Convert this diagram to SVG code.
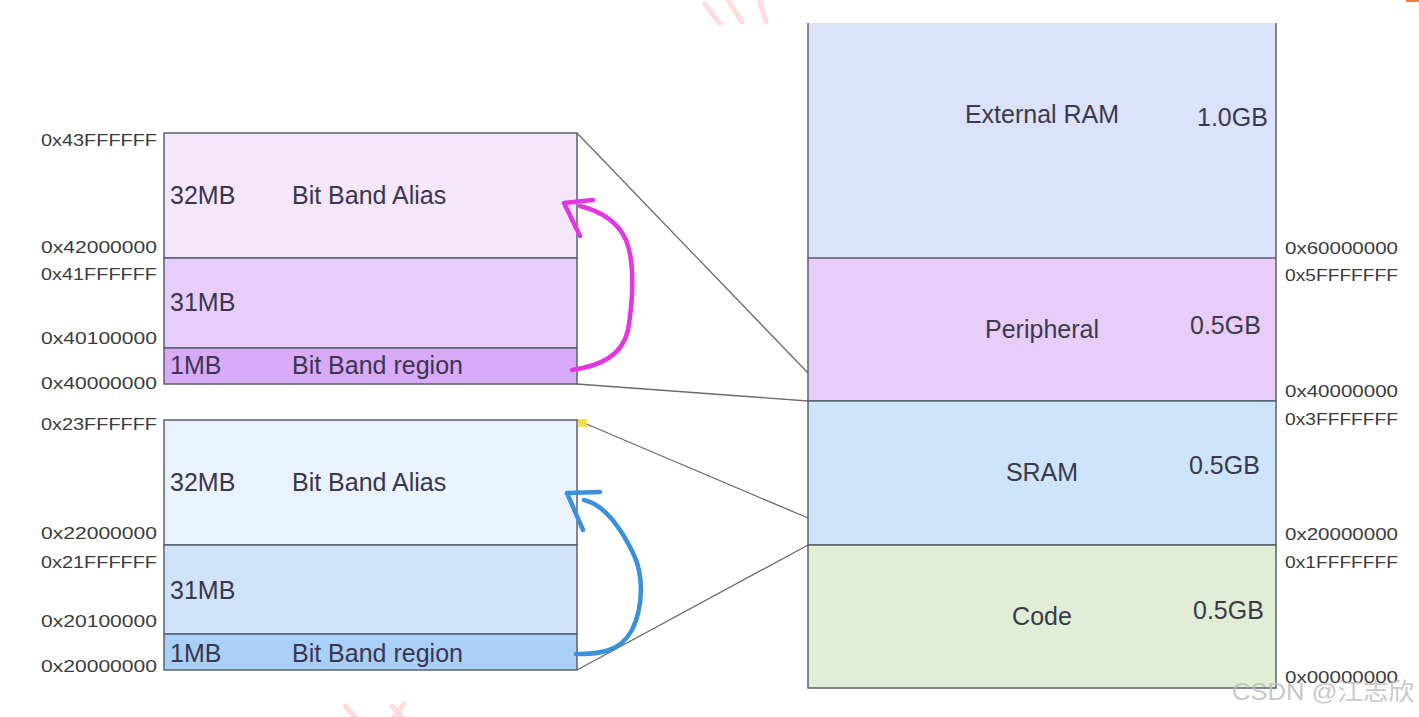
<svg xmlns="http://www.w3.org/2000/svg" width="1419" height="717" viewBox="0 0 1419 717">
<style>
.addr{font-family:"Liberation Sans",Arial,sans-serif;font-size:17px;fill:#3c3c3c}
.lbl{font-family:"Liberation Sans",Arial,sans-serif;font-size:25px;fill:#3a3550}
.big{font-family:"Liberation Sans",Arial,sans-serif;font-size:25px;fill:#3a3a4a}
.mid{text-anchor:middle}
.box{stroke:#5a6070;stroke-width:1.5}
.conn{stroke:#6a6a6a;stroke-width:1.3;fill:none}
.wm{stroke:#ff9a9a;stroke-width:5;fill:none;opacity:0.35;stroke-linecap:round}
</style>
<rect width="1419" height="717" fill="#ffffff"/>

<g id="watermark">
<path class="wm" d="M705 4 L720 24 M728 0 L742 22 M760 2 L766 22"/>
<path class="wm" d="M345 706 L355 717 M392 706 L402 717 M404 704 L394 717"/>
<rect x="1406" y="0" width="13" height="2" fill="#f08030"/>
</g>

<g id="connectors">
<line class="conn" x1="577" y1="133" x2="808" y2="373"/>
<line class="conn" x1="577" y1="384" x2="808" y2="401"/>
<line class="conn" x1="577" y1="420" x2="808" y2="518"/>
<line class="conn" x1="577" y1="670" x2="808" y2="545"/>
</g>

<g id="bitband-peripheral">
<rect class="box" x="164" y="133" width="413" height="125" fill="#f4e7fb"/>
<rect class="box" x="164" y="258" width="413" height="90" fill="#e7cefa"/>
<rect class="box" x="164" y="348" width="413" height="36" fill="#d9aaf8"/>
<text class="lbl" x="170" y="204">32MB</text>
<text class="lbl" x="292" y="204">Bit Band Alias</text>
<text class="lbl" x="170" y="311">31MB</text>
<text class="lbl" x="170" y="374">1MB</text>
<text class="lbl" x="292" y="374">Bit Band region</text>
<text class="addr" x="41" y="146" textLength="116" lengthAdjust="spacingAndGlyphs">0x43FFFFFF</text>
<text class="addr" x="41" y="253" textLength="116" lengthAdjust="spacingAndGlyphs">0x42000000</text>
<text class="addr" x="41" y="280" textLength="116" lengthAdjust="spacingAndGlyphs">0x41FFFFFF</text>
<text class="addr" x="41" y="344" textLength="116" lengthAdjust="spacingAndGlyphs">0x40100000</text>
<text class="addr" x="41" y="389" textLength="116" lengthAdjust="spacingAndGlyphs">0x40000000</text>
</g>

<g id="bitband-sram">
<rect class="box" x="164" y="420" width="413" height="125" fill="#eaf3fd"/>
<rect class="box" x="164" y="545" width="413" height="89" fill="#cfe4fb"/>
<rect class="box" x="164" y="634" width="413" height="36" fill="#a9d0f8"/>
<text class="lbl" x="170" y="491">32MB</text>
<text class="lbl" x="292" y="491">Bit Band Alias</text>
<text class="lbl" x="170" y="599">31MB</text>
<text class="lbl" x="170" y="662">1MB</text>
<text class="lbl" x="292" y="662">Bit Band region</text>
<text class="addr" x="41" y="430" textLength="116" lengthAdjust="spacingAndGlyphs">0x23FFFFFF</text>
<text class="addr" x="41" y="539" textLength="116" lengthAdjust="spacingAndGlyphs">0x22000000</text>
<text class="addr" x="41" y="568" textLength="116" lengthAdjust="spacingAndGlyphs">0x21FFFFFF</text>
<text class="addr" x="41" y="627" textLength="116" lengthAdjust="spacingAndGlyphs">0x20100000</text>
<text class="addr" x="41" y="672" textLength="116" lengthAdjust="spacingAndGlyphs">0x20000000</text>
<rect x="578" y="419" width="9" height="8" fill="#f0e040" opacity="0.9"/>
</g>

<g id="memory-map">
<rect x="808" y="23" width="468" height="235" fill="#dde2fc"/>
<rect class="box" x="808" y="258" width="468" height="143" fill="#e8cdfa"/>
<rect class="box" x="808" y="401" width="468" height="144" fill="#cde4fb"/>
<rect class="box" x="808" y="545" width="468" height="143" fill="#e2edd6"/>
<line class="box" x1="808" y1="23" x2="808" y2="258"/>
<line class="box" x1="1276" y1="23" x2="1276" y2="258"/>
<text class="big mid" x="1042" y="123">External RAM</text>
<text class="big" x="1197" y="126">1.0GB</text>
<text class="big mid" x="1042" y="338">Peripheral</text>
<text class="big" x="1190" y="334">0.5GB</text>
<text class="big mid" x="1042" y="481">SRAM</text>
<text class="big" x="1189" y="474">0.5GB</text>
<text class="big mid" x="1042" y="625">Code</text>
<text class="big" x="1193" y="619">0.5GB</text>
<text class="addr" x="1285" y="254" textLength="113" lengthAdjust="spacingAndGlyphs">0x60000000</text>
<text class="addr" x="1285" y="281" textLength="113" lengthAdjust="spacingAndGlyphs">0x5FFFFFFF</text>
<text class="addr" x="1285" y="397" textLength="113" lengthAdjust="spacingAndGlyphs">0x40000000</text>
<text class="addr" x="1285" y="425" textLength="113" lengthAdjust="spacingAndGlyphs">0x3FFFFFFF</text>
<text class="addr" x="1285" y="540" textLength="113" lengthAdjust="spacingAndGlyphs">0x20000000</text>
<text class="addr" x="1285" y="568" textLength="113" lengthAdjust="spacingAndGlyphs">0x1FFFFFFF</text>
<text class="addr" x="1285" y="683" textLength="113" lengthAdjust="spacingAndGlyphs">0x00000000</text>
</g>

<g id="arrows" fill="none" stroke-linecap="round" stroke-linejoin="round" stroke-width="4.5">
<path stroke="#e535e0" d="M572 370 C600 366 622 356 628 330 C634 295 634 260 626 240 C616 218 596 210 580 206"/>
<path stroke="#e535e0" d="M593 200 L564 203 L580 236"/>
<path stroke="#3a90dc" d="M576 654 C600 654 620 652 632 630 C644 605 643 575 634 555 C622 530 606 505 584 500"/>
<path stroke="#3a90dc" d="M600 492 L567 493 L583 530"/>
</g>

<text x="1232" y="700" font-family="'Liberation Sans','Noto Sans CJK SC',sans-serif" font-size="24" fill="#c0c0c0" opacity="0.85" textLength="182" lengthAdjust="spacingAndGlyphs">CSDN @江志欣</text>
</svg>
